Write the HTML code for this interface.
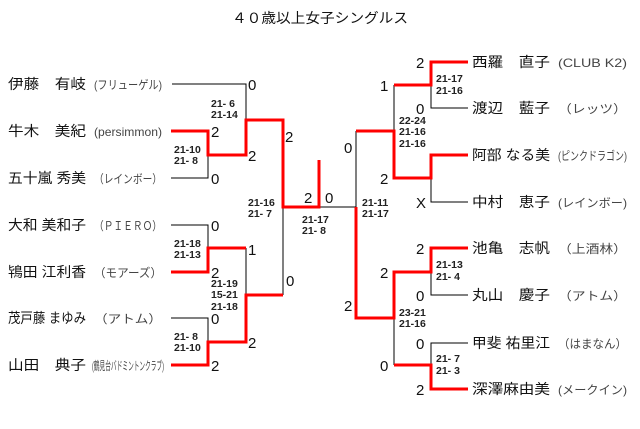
<!DOCTYPE html>
<html><head><meta charset="utf-8"><style>
html,body{margin:0;padding:0;background:#fff;}
svg{display:block;}
.n{font-family:"Liberation Sans","Noto Sans CJK JP",sans-serif;font-size:14px;fill:#111;}
.c{font-family:"Liberation Sans","Noto Sans CJK JP",sans-serif;font-size:12px;fill:#444;}
.s{font-family:"Liberation Sans",sans-serif;font-size:15px;fill:#111;}
.m{font-family:"Liberation Sans",sans-serif;font-size:10.5px;font-weight:bold;fill:#222;}
</style></head><body>
<svg width="640" height="429" viewBox="0 0 640 429" xmlns="http://www.w3.org/2000/svg">
<text x="232" y="23" class="n" textLength="176" lengthAdjust="spacingAndGlyphs">４０歳以上女子シングルス</text>

<g stroke="#000" stroke-width="1" fill="none">
<polyline points="172,84 246,84 246,120"/>
<polyline points="171,178 208,178 208,155"/>
<polyline points="171,225 208,225 208,248"/>
<polyline points="246,248 246,295"/>
<polyline points="171,318 208,318 208,342"/>
<polyline points="283,207 283,295"/>
<polyline points="319,207 356,207 356,131"/>
<polyline points="431,85 431,108 468,108"/>
<polyline points="431,178 431,202 468,202"/>
<polyline points="394,85 394,131"/>
<polyline points="431,272 431,295 468,295"/>
<polyline points="468,343 431,343 431,365"/>
<polyline points="394,318 394,365"/>
</g>
<g stroke="#f00" stroke-width="3" fill="none" stroke-linejoin="miter">
<polyline points="171,131 208,131 208,155 246,155 246,120 283,120 283,207 319,207 319,160"/>
<polyline points="171,272 208,272 208,248 246,248"/>
<polyline points="171,365 208,365 208,342 246,342 246,295 283,295"/>
<polyline points="468,62 431,62 431,85 394,85"/>
<polyline points="468,155 431,155 431,178 394,178 394,131 356,131"/>
<polyline points="356,207 356,318 394,318 394,272 431,272 431,248 468,248"/>
<polyline points="394,365 431,365 431,389 468,389"/>
</g>

<g>
<text x="8" y="89" class="n" textLength="78" lengthAdjust="spacingAndGlyphs">伊藤　有岐</text><text x="94" y="89" class="c" textLength="68" lengthAdjust="spacingAndGlyphs">(フリューゲル)</text>
<text x="8" y="136" class="n" textLength="78" lengthAdjust="spacingAndGlyphs">牛木　美紀</text><text x="94" y="136" class="c" textLength="68" lengthAdjust="spacingAndGlyphs">(persimmon)</text>
<text x="8" y="183" class="n" textLength="78" lengthAdjust="spacingAndGlyphs">五十嵐 秀美</text><text x="94" y="183" class="c" textLength="68" lengthAdjust="spacingAndGlyphs">（レインボー）</text>
<text x="8" y="230" class="n" textLength="78" lengthAdjust="spacingAndGlyphs">大和 美和子</text><text x="94" y="230" class="c" textLength="68" lengthAdjust="spacingAndGlyphs">（ＰＩＥＲＯ）</text>
<text x="8" y="277" class="n" textLength="78" lengthAdjust="spacingAndGlyphs">鴇田 江利香</text><text x="94" y="277" class="c" textLength="68" lengthAdjust="spacingAndGlyphs">（モアーズ）</text>
<text x="8" y="323" class="n" textLength="78" lengthAdjust="spacingAndGlyphs">茂戸藤 まゆみ</text><text x="94" y="323" class="c" textLength="68" lengthAdjust="spacingAndGlyphs">（アトム）</text>
<text x="8" y="370" class="n" textLength="78" lengthAdjust="spacingAndGlyphs">山田　典子</text><text x="92" y="370" class="c" textLength="72" lengthAdjust="spacingAndGlyphs">(鶴見台バドミントンクラブ)</text>
</g>
<g>
<text x="472" y="67" class="n" textLength="78" lengthAdjust="spacingAndGlyphs">西羅　直子</text><text x="558" y="67" class="c" textLength="69" lengthAdjust="spacingAndGlyphs">(CLUB K2)</text>
<text x="472" y="113" class="n" textLength="78" lengthAdjust="spacingAndGlyphs">渡辺　藍子</text><text x="558" y="113" class="c" textLength="69" lengthAdjust="spacingAndGlyphs">（レッツ）</text>
<text x="472" y="160" class="n" textLength="78" lengthAdjust="spacingAndGlyphs">阿部 なる美</text><text x="558" y="160" class="c" textLength="69" lengthAdjust="spacingAndGlyphs">(ピンクドラゴン)</text>
<text x="472" y="207" class="n" textLength="78" lengthAdjust="spacingAndGlyphs">中村　恵子</text><text x="558" y="207" class="c" textLength="69" lengthAdjust="spacingAndGlyphs">(レインボー)</text>
<text x="472" y="253" class="n" textLength="78" lengthAdjust="spacingAndGlyphs">池亀　志帆</text><text x="558" y="253" class="c" textLength="69" lengthAdjust="spacingAndGlyphs">（上酒林）</text>
<text x="472" y="300" class="n" textLength="78" lengthAdjust="spacingAndGlyphs">丸山　慶子</text><text x="558" y="300" class="c" textLength="69" lengthAdjust="spacingAndGlyphs">（アトム）</text>
<text x="472" y="348" class="n" textLength="78" lengthAdjust="spacingAndGlyphs">甲斐 祐里江</text><text x="558" y="348" class="c" textLength="69" lengthAdjust="spacingAndGlyphs">（はまなん）</text>
<text x="472" y="394" class="n" textLength="78" lengthAdjust="spacingAndGlyphs">深澤麻由美</text><text x="558" y="394" class="c" textLength="69" lengthAdjust="spacingAndGlyphs">(メークイン)</text>
</g>

<g class="s">
<text x="248" y="90">0</text>
<text x="211" y="137">2</text>
<text x="248" y="161">2</text>
<text x="211" y="184">0</text>
<text x="285" y="142">2</text>
<text x="211" y="231">0</text>
<text x="248" y="255">1</text>
<text x="211" y="278">2</text>
<text x="286" y="286">0</text>
<text x="211" y="324">0</text>
<text x="248" y="348">2</text>
<text x="211" y="371">2</text>
<text x="304" y="203">2</text>
<text x="325" y="203">0</text>
<text x="416" y="68">2</text>
<text x="380" y="91">1</text>
<text x="416" y="114">0</text>
<text x="344" y="153">0</text>
<text x="380" y="184">2</text>
<text x="416" y="208">X</text>
<text x="416" y="254">2</text>
<text x="380" y="278">2</text>
<text x="344" y="311">2</text>
<text x="416" y="301">0</text>
<text x="416" y="349">0</text>
<text x="380" y="371">0</text>
<text x="416" y="395">2</text>
</g>

<g class="m">
<text x="211" y="107">21- 6</text><text x="211" y="118">21-14</text>
<text x="174" y="153">21-10</text><text x="174" y="164">21- 8</text>
<text x="248" y="206">21-16</text><text x="248" y="217">21- 7</text>
<text x="302" y="223">21-17</text><text x="302" y="234">21- 8</text>
<text x="174" y="247">21-18</text><text x="174" y="258">21-13</text>
<text x="211" y="287">21-19</text><text x="211" y="298">15-21</text><text x="211" y="310">21-18</text>
<text x="174" y="340">21- 8</text><text x="174" y="351">21-10</text>
<text x="362" y="206">21-11</text><text x="362" y="217">21-17</text>
<text x="436" y="82">21-17</text><text x="436" y="94">21-16</text>
<text x="399" y="124">22-24</text><text x="399" y="135">21-16</text><text x="399" y="147">21-16</text>
<text x="436" y="268">21-13</text><text x="436" y="280">21- 4</text>
<text x="399" y="316">23-21</text><text x="399" y="327">21-16</text>
<text x="436" y="362">21- 7</text><text x="436" y="374">21- 3</text>
</g>
</svg>
</body></html>
